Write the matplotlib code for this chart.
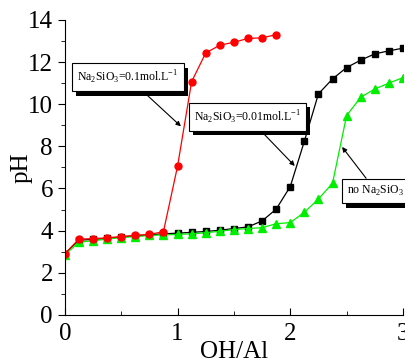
import numpy as np
import matplotlib
matplotlib.use("Agg")
import matplotlib.pyplot as plt
import matplotlib.patheffects as pe

plt.rcParams['font.family'] = ['Liberation Serif', 'DejaVu Serif']
plt.rcParams['mathtext.fontset'] = 'custom'
plt.rcParams['mathtext.rm'] = 'Liberation Serif'

# OH/Al ratio and pH readings
x_red = [0, 0.125, 0.25, 0.375, 0.5, 0.625, 0.75, 0.875, 1.0, 1.125,
         1.25, 1.375, 1.5, 1.625, 1.75, 1.875]
ph_red = [2.9, 3.6, 3.62, 3.66, 3.72, 3.78, 3.82, 3.95, 7.05, 11.07,
          12.43, 12.8, 12.94, 13.12, 13.15, 13.3]

x_full = [0, 0.125, 0.25, 0.375, 0.5, 0.625, 0.75, 0.875, 1.0, 1.125,
          1.25, 1.375, 1.5, 1.625, 1.75, 1.875, 2.0, 2.125, 2.25, 2.375,
          2.5, 2.625, 2.75, 2.875, 3.0]
ph_black = [2.9, 3.55, 3.58, 3.63, 3.7, 3.75, 3.8, 3.85, 3.88, 3.92,
            3.96, 4.02, 4.1, 4.18, 4.46, 5.02, 6.09, 8.24, 10.49, 11.2,
            11.74, 12.09, 12.39, 12.53, 12.66]
ph_green = [2.85, 3.45, 3.52, 3.6, 3.67, 3.72, 3.77, 3.8, 3.82, 3.85,
            3.9, 3.97, 4.05, 4.1, 4.14, 4.33, 4.38, 4.87, 5.5, 6.25,
            9.46, 10.33, 10.72, 11.0, 11.26]

fig = plt.figure(figsize=(4.05, 3.62), dpi=100)
ax = fig.add_axes([0.16, 0.13, 0.835, 0.815])

ax.plot(x_full, ph_black, '-s', color='black', ms=4, lw=0.9)
ax.plot(x_full, ph_green, '-^', color='#00ee00', mfc='#00ee00', mec='#00ee00', ms=6, lw=0.9)
ax.plot(x_red, ph_red, '-o', color='red', ms=5, lw=0.9)

ax.set_xlim(0, 3)
ax.set_ylim(0, 14)
ax.set_xticks([0, 1, 2, 3])
ax.set_xticks([0.5, 1.5, 2.5], minor=True)
ax.set_yticks(range(0, 15, 2))
ax.set_yticks(range(1, 14, 2), minor=True)
ax.tick_params(axis='x', which='both', direction='in', labelsize=18, pad=6)
ax.tick_params(axis='y', which='both', direction='out', labelsize=18)
ax.tick_params(which='major', length=5)
ax.tick_params(which='minor', length=3)
ax.spines['top'].set_visible(False)
ax.spines['right'].set_visible(False)
ax.set_xlabel('OH/Al', fontsize=18, labelpad=-3)
ax.set_ylabel('pH', fontsize=18, labelpad=-3)

shadow = [pe.withSimplePatchShadow(offset=(3, -3), shadow_rgbFace='black', alpha=1)]
box = dict(boxstyle='square,pad=0.45', fc='white', ec='black', lw=0.8)
arrow = dict(arrowstyle='-|>', color='black', lw=0.8, mutation_scale=7, shrinkA=0, shrinkB=0)

notes = [
    (r'Na$_2$SiO$_3$=0.1mol.L$^{-1}$', (1.03, 8.95), (0.56, 11.27)),
    (r'Na$_2$SiO$_3$=0.01mol.L$^{-1}$', (2.04, 7.07), (1.62, 9.4)),
    (r'no Na$_2$SiO$_3$', (2.46, 7.97), (2.76, 5.88)),
]
for label, tip, pos in notes:
    t = ax.annotate(label, xy=tip, xytext=pos, fontsize=8.5, ha='center', va='center',
                    bbox=box, arrowprops=arrow, annotation_clip=False)
    t.get_bbox_patch().set_path_effects(shadow)

fig.savefig('out.png', dpi=100)
